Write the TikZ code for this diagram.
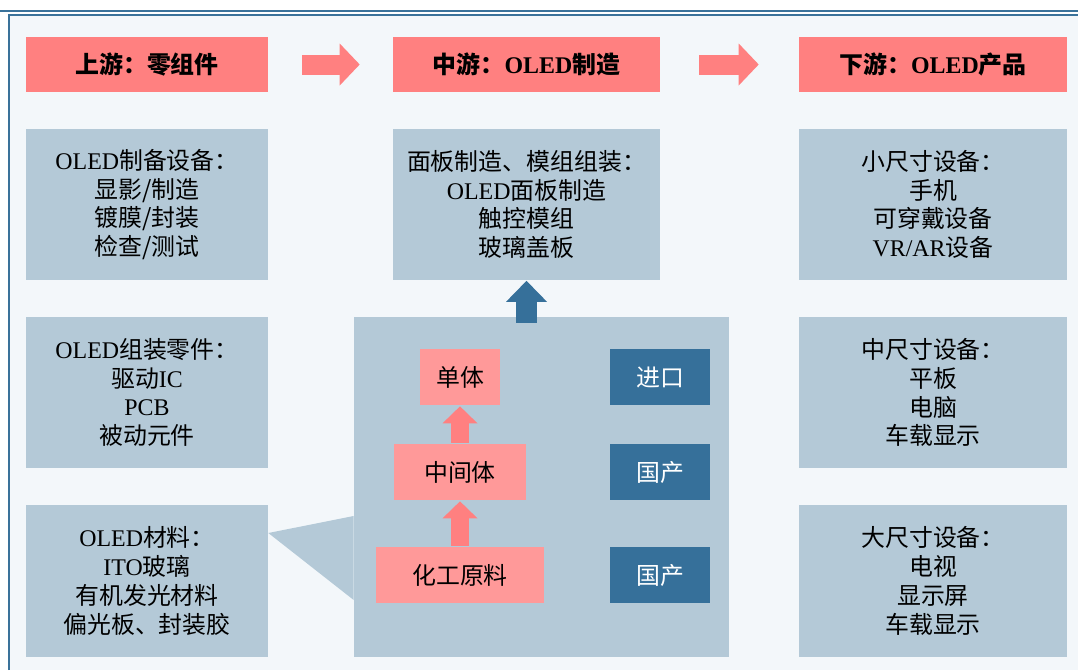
\documentclass[tikz,border=0pt]{standalone}
\usepackage{fontspec}
\setmainfont{Noto Sans CJK SC}
\newfontfamily\lat{Liberation Serif}
\usetikzlibrary{arrows.meta,calc}
\definecolor{headred}{RGB}{255,128,128}
\definecolor{boxpink}{RGB}{255,153,153}
\definecolor{panelblue}{RGB}{180,201,215}
\definecolor{darkblue}{RGB}{54,112,154}
\definecolor{framebg}{RGB}{243,247,250}
\definecolor{frameline}{RGB}{58,114,154}
\newcommand{\chainfont}{\fontsize{13.6}{16.4}\selectfont}

\begin{document}
\begin{tikzpicture}[x=0.02cm,y=-0.02cm,
    head/.style={fill=headred,minimum height=1.1cm,inner sep=0pt,font=\chainfont\bfseries},
    info/.style={fill=panelblue,minimum height=3.04cm,inner sep=0pt,align=center,font=\chainfont},
    part/.style={fill=boxpink,minimum height=1.12cm,inner sep=0pt,font=\chainfont},
    origin/.style={fill=darkblue,text=white,minimum width=2cm,minimum height=1.12cm,inner sep=0pt,font=\chainfont},
    flow/.style={line width=0.4cm,headred,-{Triangle[length=0.4cm,width=0.84cm,line width=0pt]}},
    rise/.style={line width=0.36cm,headred,-{Triangle[length=0.34cm,width=0.7cm,line width=0pt]}},
    lift/.style={line width=0.42cm,darkblue,-{Triangle[length=0.42cm,width=0.82cm,line width=0pt]}}]
    \useasboundingbox (0,0) rectangle (1078,670);
    \fill[framebg] (8,14) rectangle (1078,670);
    \draw[frameline,line width=0.04cm] (0,11) -- (1078,11);
    \draw[frameline,line width=0.04cm] (9,670) -- (9,15) -- (1078,15);
    \node[head,minimum width=4.84cm] (up) at (147,64.5) {上游：零组件};
    \node[head,minimum width=5.34cm] (midst) at (526.5,64.5) {中游：{\lat OLED}制造};
    \node[head,minimum width=5.36cm] (down) at (933,64.5) {下游：{\lat OLED}产品};
    \foreach \a/\b/\s/\e in {up/midst/0.68/0.66,midst/down/0.78/0.8}{\draw[flow,shorten <=\s cm,shorten >=\e cm] (\a)--(\b);}
    \node[info,minimum width=4.84cm] (equip) at (147,204.5) {{\lat OLED}制备设备：\\显影/制造\\镀膜/封装\\检查/测试};
    \node[info,minimum width=4.84cm] (parts) at (147,392.5) {{\lat OLED}组装零件：\\驱动{\lat IC}\\{\lat PCB}\\被动元件};
    \node[info,minimum width=4.84cm] (mat) at (147,581) {{\lat OLED}材料：\\{\lat ITO}玻璃\\有机发光材料\\偏光板、封装胶};
    \node[info,minimum width=5.34cm] (panel) at (526.5,204.5) {面板制造、模组组装：\\{\lat OLED}面板制造\\触控模组\\玻璃盖板};
    \node[info,minimum width=5.36cm] (small) at (933,204.5) {小尺寸设备：\\手机\\可穿戴设备\\{\lat VR/AR}设备};
    \node[info,minimum width=5.36cm] (medium) at (933,392.5) {中尺寸设备：\\平板\\电脑\\车载显示};
    \node[info,minimum width=5.36cm] (large) at (933,581) {大尺寸设备：\\电视\\显示屏\\车载显示};
    \coordinate (tip) at ($(mat.east)+(0,-48)$);
    \node[fill=panelblue,minimum width=7.5cm,minimum height=6.8cm,inner sep=0pt] (chem) at (541.5,487) {};
    \fill[panelblue] (tip) -- ($(chem.west)+(0,29)$) -- ($(chem.west)+(0,113)$) -- cycle;
    \draw[lift,shorten <=-0.12cm] (chem.north -| panel.south) -- (panel.south);
    \node[part,minimum width=1.6cm] (mono) at (460,377) {单体};
    \node[part,minimum width=2.66cm] (inter) at (460,472) {中间体};
    \node[part,minimum width=3.36cm] (raw) at (460,575) {化工原料};
    \foreach \a/\b in {inter/mono,raw/inter}{\draw[rise,shorten <=0.02cm,shorten >=0.02cm] (\a)--(\b);}
    \node[origin] (imp) at (660,377) {进口};
    \node[origin] (dom1) at (660,472) {国产};
    \node[origin] (dom2) at (660,575) {国产};
\end{tikzpicture}
\end{document}
